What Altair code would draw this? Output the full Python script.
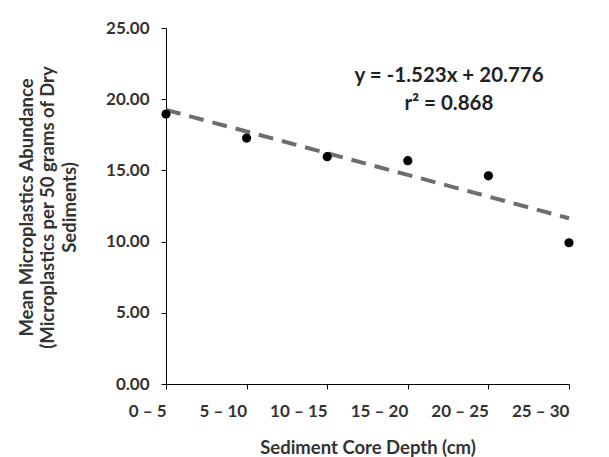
import altair as alt
import pandas as pd

depths = ["0 – 5", "5 – 10", "10 – 15", "15 – 20", "20 – 25", "25 – 30"]
abundance = [18.96, 17.27, 15.96, 15.68, 14.62, 9.92]
slope = -1.523
intercept = 20.776
eq_lines = ["y = -1.523x + 20.776", "r² = 0.868"]
y_ticks = [0, 5, 10, 15, 20, 25]

df = pd.DataFrame({
    "depth": depths,
    "abundance": abundance,
    "trend": [intercept + slope * (i + 1) for i in range(len(depths))],
})
ann = pd.DataFrame({"text": ["\n".join(eq_lines)]})

FONT = "Lato"
TXT = "#333333"

x_enc = alt.X(
    "depth:N", sort=depths,
    scale=alt.Scale(type="point", padding=0),
    axis=alt.Axis(
        title="Sediment Core Depth (cm)", labelAngle=0, labelFont=FONT,
        labelFontSize=17, labelFontWeight="bold", labelColor=TXT,
        titleFont=FONT, titleFontSize=18.5, titleFontWeight="bold", titleColor=TXT,
        tickSize=5, labelPadding=22, titlePadding=19, domainColor="black",
        tickColor="black", grid=False,
    ),
)
y_axis = alt.Axis(
    title=["Mean Microplastics Abundance", "(Microplastics per 50 grams of Dry", "Sediments)"],
    values=y_ticks, format=".2f", labelFont=FONT, labelFontSize=17,
    labelFontWeight="bold", labelColor=TXT, titleFont=FONT, titleFontSize=18.5,
    titleFontWeight="bold", titleColor=TXT, titleLineHeight=21.5,
    titleX=-149, titleY=179, titleAlign="center", titleBaseline="top",
    tickSize=5, labelPadding=12, domainColor="black", tickColor="black", grid=False,
)
y_scale = alt.Scale(domain=[0, 25])

points = alt.Chart(df).mark_circle(size=85, color="black", opacity=1).encode(
    x=x_enc,
    y=alt.Y("abundance:Q", scale=y_scale, axis=y_axis),
)
trend = alt.Chart(df).mark_line(color="#6e6e6e", strokeWidth=4, strokeDash=[15, 9]).encode(
    x=alt.X("depth:N", sort=depths),
    y=alt.Y("trend:Q", scale=y_scale),
)
text = alt.Chart(ann).mark_text(
    font=FONT, fontSize=20.5, fontWeight="bold", color="#222222",
    align="center", baseline="middle", lineBreak="\n", lineHeight=28,
).encode(
    x=alt.value(283),
    y=alt.value(48),
    text="text:N",
)

chart = alt.layer(trend, points, text).properties(
    width=403, height=356,
    background="white",
    autosize=alt.AutoSizeParams(type="none"),
    padding={"left": 158, "top": 20, "right": 30, "bottom": 80},
).configure_view(stroke=None).configure_axis(grid=False)

chart.save("out.html", embed_options={"renderer": "svg", "actions": False})
